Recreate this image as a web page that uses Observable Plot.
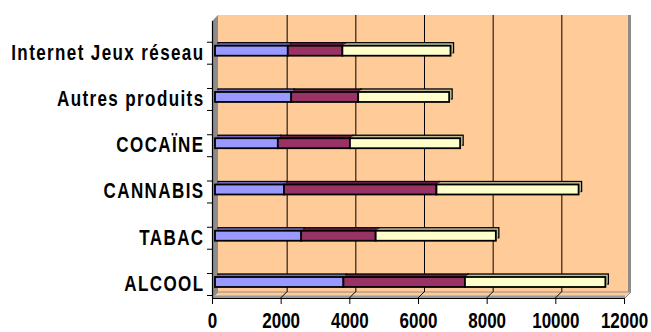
<!DOCTYPE html>
<html>
<head>
<meta charset="utf-8">
<script src="https://cdn.jsdelivr.net/npm/d3@7"></script>
<script src="https://cdn.jsdelivr.net/npm/@observablehq/plot@0.6"></script>
<style>
  html, body { margin: 0; padding: 0; background: #fff; }
</style>
</head>
<body>
<div id="chart"></div>
<script>
// ---- data ----
const categories = ["ALCOOL", "TABAC", "CANNABIS", "COCAÏNE", "Autres produits", "Internet Jeux réseau"];
const serie1 = [3740, 2510, 2010, 1830, 2220, 2120];
const serie2 = [3540, 2170, 4440, 2100, 1950, 1590];
const serie3 = [4090, 3500, 4140, 3210, 2650, 3150];
const xTicks = [0, 2000, 4000, 6000, 8000, 10000, 12000];
const seriesColors = ["#9999FF", "#993366", "#FFFFCC"];
const topColors = ["#6E6EC8", "#6A2248", "#BDBD98"];

// ---- build stacked segments ----
const series = [serie1, serie2, serie3];
const segs = [];
categories.forEach((c, i) => {
  let acc = 0;
  series.forEach((s, k) => {
    segs.push({cat: i, k, x1: acc, x2: acc + s[i]});
    acc += s[i];
  });
});

const xDomain = [0, 12000];
const yDomain = [-0.281, 5.707];
const half = 0.108;   // half bar thickness in category units
const D = 3;          // 3-D depth offset (px)

function walls(index, scales) {
  const {x, y} = scales;
  const x0 = x(xDomain[0]), x1 = x(xDomain[1]);
  const yb = y(yDomain[0]), yt = y(yDomain[1]);
  const g = d3.create("svg:g");
  g.append("rect").attr("x", x0 + D).attr("y", yt - D)
    .attr("width", x1 - x0 - 2).attr("height", yb - yt).attr("fill", "#FFCC99");
  g.append("rect").attr("x", x1 + D - 2).attr("y", yt - D)
    .attr("width", 3).attr("height", yb - yt).attr("fill", "#8C8C8C");
  g.append("polygon").attr("points", [[x0 - D, yt + D], [x0 + D, yt - D], [x0 + D, yb - D], [x0 - D, yb + D]].join(" "))
    .attr("fill", "#8C8C8C");
  g.append("polygon").attr("points", [[x0 - D, yb + D], [x0 + D, yb - D], [x1 + D + 1, yb - D], [x1 - D + 1, yb + D]].join(" "))
    .attr("fill", "#FFCC99").attr("stroke", "#8C8C8C").attr("stroke-width", 1);
  g.append("rect").attr("x", x0 - D).attr("y", yb + D - 2.5)
    .attr("width", x1 - x0 + 1).attr("height", 2.5).attr("fill", "#999999");
  xTicks.slice(1, -1).forEach(v => {
    g.append("line").attr("x1", x(v) - D).attr("y1", yb + D).attr("x2", x(v) + D).attr("y2", yb - D)
      .attr("stroke", "#000").attr("stroke-width", 1);
  });
  return g.node();
}

const marks = [
  walls,
  Plot.ruleX(xTicks.slice(1, -1), {y1: yDomain[0], y2: yDomain[1], dx: D, dy: -D, stroke: "#000", strokeWidth: 1})
];
[3, 2, 1].forEach(k => {
  marks.push(Plot.rect(segs, {
    x1: "x1", x2: "x2", y1: d => d.cat - half, y2: d => d.cat + half,
    fill: d => topColors[d.k], dx: k, dy: -k,
    stroke: k === 3 ? "#000" : "none", strokeWidth: 1.3
  }));
});
marks.push(Plot.rect(segs, {
  x1: "x1", x2: "x2", y1: d => d.cat - half, y2: d => d.cat + half,
  fill: d => seriesColors[d.k], stroke: "#000", strokeWidth: 1.8
}));
marks.push(Plot.ruleY([yDomain[0]], {dx: -D, dy: D, stroke: "#000", strokeWidth: 1.2}));
marks.push(Plot.ruleX([xDomain[0]], {dx: -D, dy: D, stroke: "#000", strokeWidth: 1.2}));
marks.push(Plot.axisX({ticks: xTicks, tickFormat: d => String(d), tickSize: 6, tickPadding: 8, dx: -D, dy: D}));
const yTickPos = [];
categories.forEach((c, i) => { yTickPos.push(i - 0.216, i + 0.259); });
marks.push(Plot.axisY({ticks: yTickPos, tickFormat: () => "", tickSize: 5, dx: -D, dy: D}));
marks.push(Plot.axisY({ticks: categories.map((c, i) => i), tickFormat: i => categories[i], tickSize: 0, tickPadding: 8, dx: -D, dy: 1.5}));

const chart = Plot.plot({
  width: 651,
  height: 332,
  marginLeft: 215,
  marginRight: 24,
  marginTop: 18,
  marginBottom: 37,
  x: {domain: xDomain, axis: null},
  y: {domain: yDomain, axis: null},
  style: {
    fontFamily: "'Liberation Sans', Arial, sans-serif",
    fontSize: "17px",
    fontWeight: "bold",
    color: "#000",
    background: "#fff"
  },
  marks
});
document.getElementById("chart").appendChild(chart);

// stretch the label glyphs vertically like the reference's rendering
function stretch(sel, s) {
  d3.select(chart).selectAll(sel).each(function () {
    const t = this.getAttribute("transform");
    if (t) this.setAttribute("transform", `${t} scale(1,${s})`);
  });
}
d3.select(chart).selectAll('g[aria-label="y-axis tick label"] text').attr("letter-spacing", "1.4px");
stretch('g[aria-label="y-axis tick label"] text', 1.28);
stretch('g[aria-label="x-axis tick label"] text', 1.3);
</script>
</body>
</html>
